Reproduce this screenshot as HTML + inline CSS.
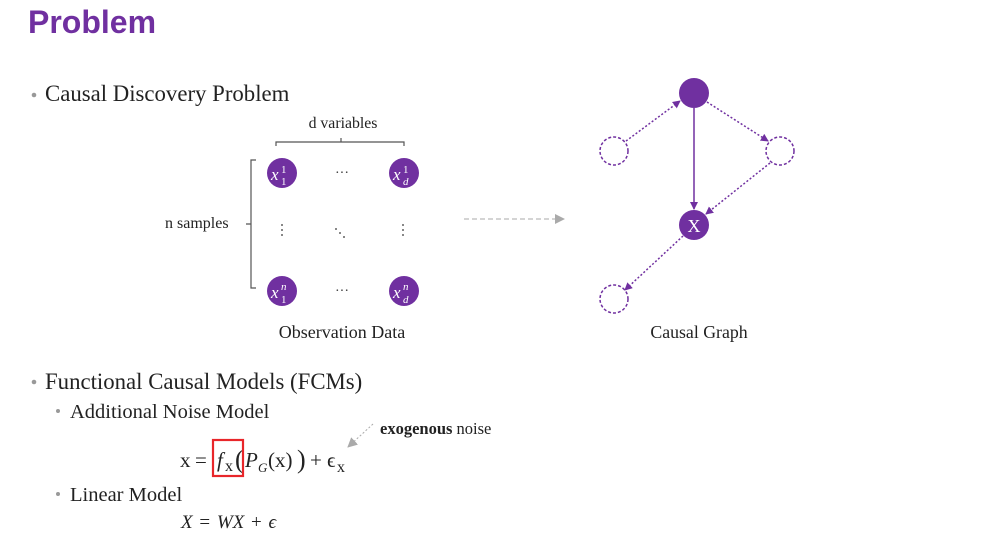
<!DOCTYPE html>
<html><head><meta charset="utf-8"><style>
body{margin:0;background:#fff;width:996px;height:538px;overflow:hidden;font-family:"Liberation Serif",serif}
svg{position:absolute;left:0;top:0}
</style></head><body>
<svg width="996" height="538" font-family="Liberation Serif, serif">
<defs>
<marker id="ah" markerWidth="8" markerHeight="8" refX="7" refY="4" orient="auto" markerUnits="userSpaceOnUse"><path d="M0,0 L8,4 L0,8 z" fill="#7030a0"/></marker>
<marker id="ag" markerWidth="10" markerHeight="10" refX="9" refY="5" orient="auto" markerUnits="userSpaceOnUse"><path d="M0,0 L10,5 L0,10 z" fill="#aaa"/></marker>
</defs>
<text x="28" y="33" font-family="Liberation Sans, sans-serif" font-weight="bold" font-size="32" fill="#7030a0">Problem</text>
<g><circle cx="34" cy="95" r="2.3" fill="#999"/><text x="45" y="101" font-size="22.8" fill="#222">Causal Discovery Problem</text></g>
<text x="343" y="128" font-size="15.8" text-anchor="middle" fill="#222">d variables</text>
<path d="M276,146 V142 H404 V146 M341,142 V138" stroke="#555" fill="none" stroke-width="1.2"/>
<text x="165" y="228" font-size="16" fill="#222">n samples</text>
<path d="M256,160 H251 V288 H256 M251,224 H246" stroke="#555" fill="none" stroke-width="1.2"/>
<g font-style="italic" fill="#fff" font-size="17">
<circle cx="282" cy="173" r="15" fill="#7030a0"/><text x="271" y="180">x</text><text x="281" y="173" font-size="11" font-style="normal">1</text><text x="281" y="185" font-size="11" font-style="normal">1</text>
<circle cx="404" cy="173" r="15" fill="#7030a0"/><text x="393" y="180">x</text><text x="403" y="173" font-size="11" font-style="normal">1</text><text x="403" y="185" font-size="11">d</text>
<circle cx="282" cy="291" r="15" fill="#7030a0"/><text x="271" y="298">x</text><text x="281" y="290" font-size="11">n</text><text x="281" y="303" font-size="11" font-style="normal">1</text>
<circle cx="404" cy="291" r="15" fill="#7030a0"/><text x="393" y="298">x</text><text x="403" y="290" font-size="11">n</text><text x="403" y="303" font-size="11">d</text>
</g>
<g fill="#333" font-size="14" text-anchor="middle">
<text x="342" y="177">···</text><text x="342" y="295">···</text>
<circle cx="282" cy="225" r="0.9"/><circle cx="282" cy="230" r="0.9"/><circle cx="282" cy="235" r="0.9"/>
<circle cx="403" cy="225" r="0.9"/><circle cx="403" cy="230" r="0.9"/><circle cx="403" cy="235" r="0.9"/>
<circle cx="336" cy="229" r="0.9"/><circle cx="340" cy="233" r="0.9"/><circle cx="344" cy="237" r="0.9"/>
</g>
<text x="342" y="338" font-size="18" text-anchor="middle" fill="#222">Observation Data</text>
<line x1="464" y1="219" x2="564" y2="219" stroke="#aaa" stroke-dasharray="5,3" marker-end="url(#ag)"/>
<g stroke="#7030a0" stroke-width="1.5" fill="none">
<line x1="626" y1="141" x2="680" y2="101" stroke-dasharray="2,2" marker-end="url(#ah)"/>
<line x1="707" y1="102" x2="768" y2="141" stroke-dasharray="2,2" marker-end="url(#ah)"/>
<line x1="694" y1="108" x2="694" y2="209" marker-end="url(#ah)"/>
<line x1="770" y1="163" x2="706" y2="214" stroke-dasharray="2,2" marker-end="url(#ah)"/>
<line x1="683" y1="236" x2="625" y2="290" stroke-dasharray="2,2" marker-end="url(#ah)"/>
<circle cx="694" cy="93" r="15" fill="#7030a0" stroke="none"/>
<circle cx="614" cy="151" r="14" stroke-dasharray="3,2"/>
<circle cx="780" cy="151" r="14" stroke-dasharray="3,2"/>
<circle cx="694" cy="225" r="15" fill="#7030a0" stroke="none"/>
<circle cx="614" cy="299" r="14" stroke-dasharray="3,2"/>
</g>
<text x="694" y="232" font-size="18" text-anchor="middle" fill="#fff">X</text>
<text x="699" y="338" font-size="17.8" text-anchor="middle" fill="#222">Causal Graph</text>
<g><circle cx="34" cy="382" r="2.3" fill="#999"/><text x="45" y="389" font-size="22.8" fill="#222">Functional Causal Models (FCMs)</text></g>
<g><circle cx="58" cy="411" r="2" fill="#999"/><text x="70" y="418" font-size="20.5" fill="#222">Additional Noise Model</text></g>
<g fill="#222" font-size="21">
<text x="180" y="467">x</text><text x="195" y="467">=</text>
<text x="217" y="467" font-style="italic">f</text><text x="225" y="471" font-size="16">x</text>
<text x="235" y="468" font-size="26">(</text>
<text x="245" y="467" font-style="italic">P</text><text x="258" y="472" font-size="13" font-style="italic">G</text>
<text x="268" y="467">(x)</text><text x="297" y="468" font-size="26">)</text>
<text x="310" y="467">+</text><text x="327" y="467">ϵ</text><text x="337" y="472" font-size="16">x</text>
</g>
<rect x="213" y="440" width="30" height="36" fill="none" stroke="#e8262a" stroke-width="2.2"/>
<line x1="373" y1="424" x2="348" y2="447" stroke="#aaa" stroke-dasharray="2,2" marker-end="url(#ag)"/>
<text x="380" y="434" font-size="16.5" fill="#222"><tspan font-weight="bold">exogenous</tspan> noise</text>
<g><circle cx="58" cy="494" r="2" fill="#999"/><text x="70" y="501" font-size="20.5" fill="#222">Linear Model</text></g>
<text x="181" y="528" font-size="19" fill="#222" word-spacing="2"><tspan font-style="italic">X</tspan> = <tspan font-style="italic">WX</tspan> + <tspan font-style="italic">ϵ</tspan></text>
</svg>
</body></html>
